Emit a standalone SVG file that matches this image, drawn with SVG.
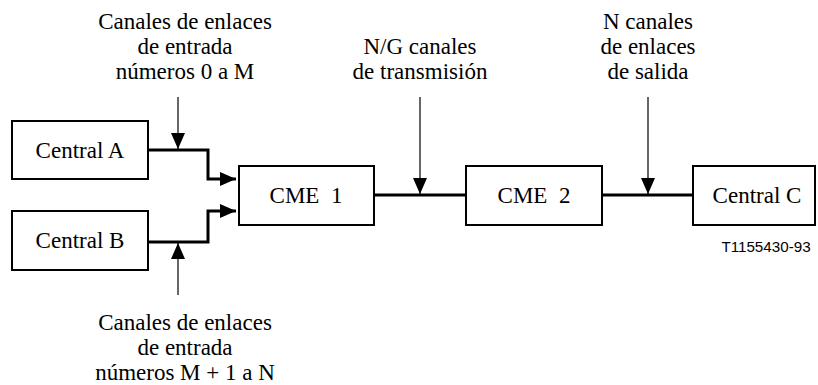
<svg xmlns="http://www.w3.org/2000/svg" width="818" height="385" viewBox="0 0 818 385">
<defs>
<style>
.box{fill:#fff;stroke:#000;stroke-width:2}
.t{font-family:'Liberation Serif',Tinos,'Times New Roman','DejaVu Serif',serif;font-size:23px;fill:#000;text-anchor:middle}
.thick{fill:none;stroke:#000;stroke-width:3}
.thin{fill:none;stroke:#000;stroke-width:1.2}
.code{font-family:'Liberation Sans',Arial,sans-serif;font-size:15.2px;fill:#000;text-anchor:middle}
</style>
<marker id="ah" viewBox="0 0 16 14" refX="16" refY="7" markerWidth="16" markerHeight="14" markerUnits="userSpaceOnUse" orient="auto">
<path d="M0,0 L16,7 L0,14 Z" fill="#000"/>
</marker>
</defs>
<rect width="818" height="385" fill="#fff"/>
<g id="connectors">
<path class="thick" d="M148,150 H208 V179 H236" marker-end="url(#ah)"/>
<path class="thick" d="M148,242 H208 V211 H236" marker-end="url(#ah)"/>
<path class="thick" d="M374,195 H466"/>
<path class="thick" d="M602,195 H693"/>
<path class="thin" d="M178,97 V149" marker-end="url(#ah)"/>
<path class="thin" d="M178,295 V243" marker-end="url(#ah)"/>
<path class="thin" d="M420,97 V194" marker-end="url(#ah)"/>
<path class="thin" d="M648,97 V194" marker-end="url(#ah)"/>
</g>
<g id="centralA"><rect class="box" x="12" y="121" width="136" height="58"/><text class="t" x="80" y="158">Central A</text></g>
<g id="centralB"><rect class="box" x="12" y="211" width="136" height="59"/><text class="t" x="80" y="248">Central B</text></g>
<g id="cme1"><rect class="box" x="239" y="166" width="135" height="59"/><text class="t" x="306" y="203" xml:space="preserve">CME  1</text></g>
<g id="cme2"><rect class="box" x="466" y="166" width="136" height="59"/><text class="t" x="534" y="203" xml:space="preserve">CME  2</text></g>
<g id="centralC"><rect class="box" x="693" y="166" width="122" height="59"/><text class="t" x="757" y="203">Central C</text></g>
<g id="label-entrada-top">
<text class="t" x="185" y="29">Canales de enlaces</text>
<text class="t" x="185" y="54">de entrada</text>
<text class="t" x="185" y="79">números 0 a M</text>
</g>
<g id="label-transmision">
<text class="t" x="420" y="54">N/G canales</text>
<text class="t" x="420" y="79">de transmisión</text>
</g>
<g id="label-salida">
<text class="t" x="648" y="29">N canales</text>
<text class="t" x="648" y="54">de enlaces</text>
<text class="t" x="648" y="79">de salida</text>
</g>
<g id="label-entrada-bottom">
<text class="t" x="185" y="330">Canales de enlaces</text>
<text class="t" x="185" y="355">de entrada</text>
<text class="t" x="185" y="380">números M + 1 a N</text>
</g>
<text class="code" x="766" y="252">T1155430-93</text>
</svg>
